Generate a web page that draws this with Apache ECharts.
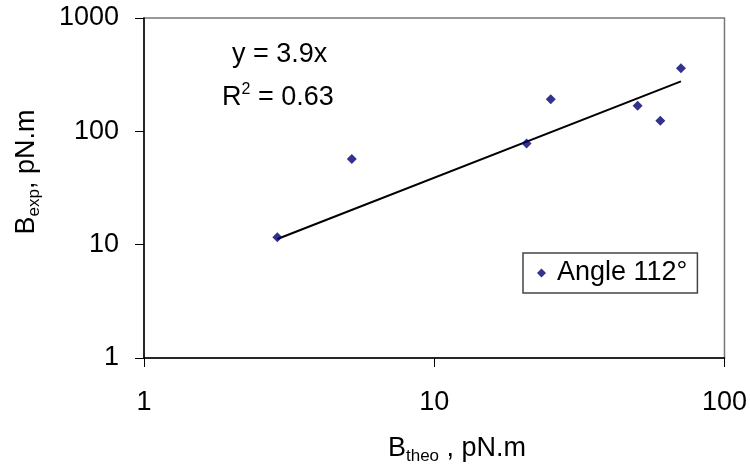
<!DOCTYPE html>
<html>
<head>
<meta charset="utf-8" />
<title>Bexp vs Btheo</title>
<script src="https://cdn.jsdelivr.net/npm/echarts@6/dist/echarts.min.js"></script>
<style>
  html, body { margin: 0; padding: 0; background: #fff; }
  #main { width: 750px; height: 469px; }
</style>
</head>
<body>
<div id="main"></div>
<script>
// measured points (Btheo, Bexp), pN.m
const bTheo = [2.88, 5.2, 20.8, 25.2, 50.2, 60.1, 70.8];
const bExp = [11.6, 57, 78, 192, 168, 124, 360];
// trendline y = 3.9x drawn across the data range
const slope = 3.9;
const trendX = [2.88, 70.8];
const xTicks = [1, 10, 100];
const yTicks = [1, 10, 100, 1000];

const font = 'Arial, "Liberation Sans", sans-serif';
const chart = echarts.init(document.getElementById('main'));

// text style for titles with sub/superscripts
const richTitle = {
  b: { fontFamily: font, fontSize: 27, fill: '#000', lineHeight: 32 },
  s: { fontFamily: font, fontSize: 17, fill: '#000', verticalAlign: 'bottom', lineHeight: 32 },
  p: { fontFamily: font, fontSize: 16, fill: '#000', verticalAlign: 'top', lineHeight: 32 }
};

chart.setOption({
  backgroundColor: '#fff',
  animation: false,
  grid: {
    left: 144, top: 18, width: 582, height: 340,
    show: true, borderColor: '#777', borderWidth: 1.5
  },
  legend: {
    left: 523, top: 253,
    data: ['Angle 112°'],
    icon: 'diamond', itemWidth: 9, itemHeight: 9,
    padding: [6, 10, 6, 14],
    borderColor: '#444', borderWidth: 1.5,
    textStyle: { fontFamily: font, fontSize: 27, color: '#000', lineHeight: 28, padding: [0, 0, 0, 6] }
  },
  xAxis: {
    type: 'log', logBase: 10, min: 1, max: 100,
    axisLine: { lineStyle: { color: '#000', width: 1.5 } },
    axisTick: { inside: false, length: 9, lineStyle: { color: '#000' } },
    splitLine: { show: false },
    axisLabel: {
      margin: 31, fontFamily: font, fontSize: 27, color: '#000',
      formatter: v => xTicks.includes(Math.round(v)) ? String(Math.round(v)) : ''
    }
  },
  yAxis: {
    type: 'log', logBase: 10, min: 1, max: 1000,
    axisLine: { lineStyle: { color: '#000', width: 1.5 } },
    axisTick: { inside: false, length: 9, lineStyle: { color: '#000' } },
    splitLine: { show: false },
    axisLabel: {
      margin: 25, fontFamily: font, fontSize: 27, color: '#000',
      formatter: v => yTicks.includes(Math.round(v)) ? String(Math.round(v)) : ''
    }
  },
  graphic: [
    {
      type: 'text', x: 232, y: 55,
      style: { text: 'y = 3.9x', font: '27px ' + font, fill: '#000', verticalAlign: 'middle' }
    },
    {
      type: 'text', x: 222, y: 98,
      style: { text: '{b|R}{p|2}{b| = 0.63}', rich: richTitle, verticalAlign: 'middle' }
    },
    {
      type: 'text', x: 457, y: 449,
      style: { text: '{b|B}{s|theo}{b| , pN.m}', rich: richTitle, align: 'center', verticalAlign: 'middle' }
    },
    {
      type: 'text', x: 27, y: 172, rotation: Math.PI / 2,
      style: { text: '{b|B}{s|exp}{b|, pN.m}', rich: richTitle, align: 'center', verticalAlign: 'middle' }
    }
  ],
  series: [
    {
      name: 'trend', type: 'line',
      data: trendX.map(x => [x, slope * x]),
      showSymbol: false, symbol: 'none',
      lineStyle: { color: '#000', width: 2 },
      z: 2
    },
    {
      name: 'Angle 112°', type: 'scatter',
      data: bTheo.map((x, i) => [x, bExp[i]]),
      symbol: 'diamond', symbolSize: 10,
      itemStyle: { color: '#000070' },
      z: 3
    }
  ]
});
</script>
</body>
</html>
